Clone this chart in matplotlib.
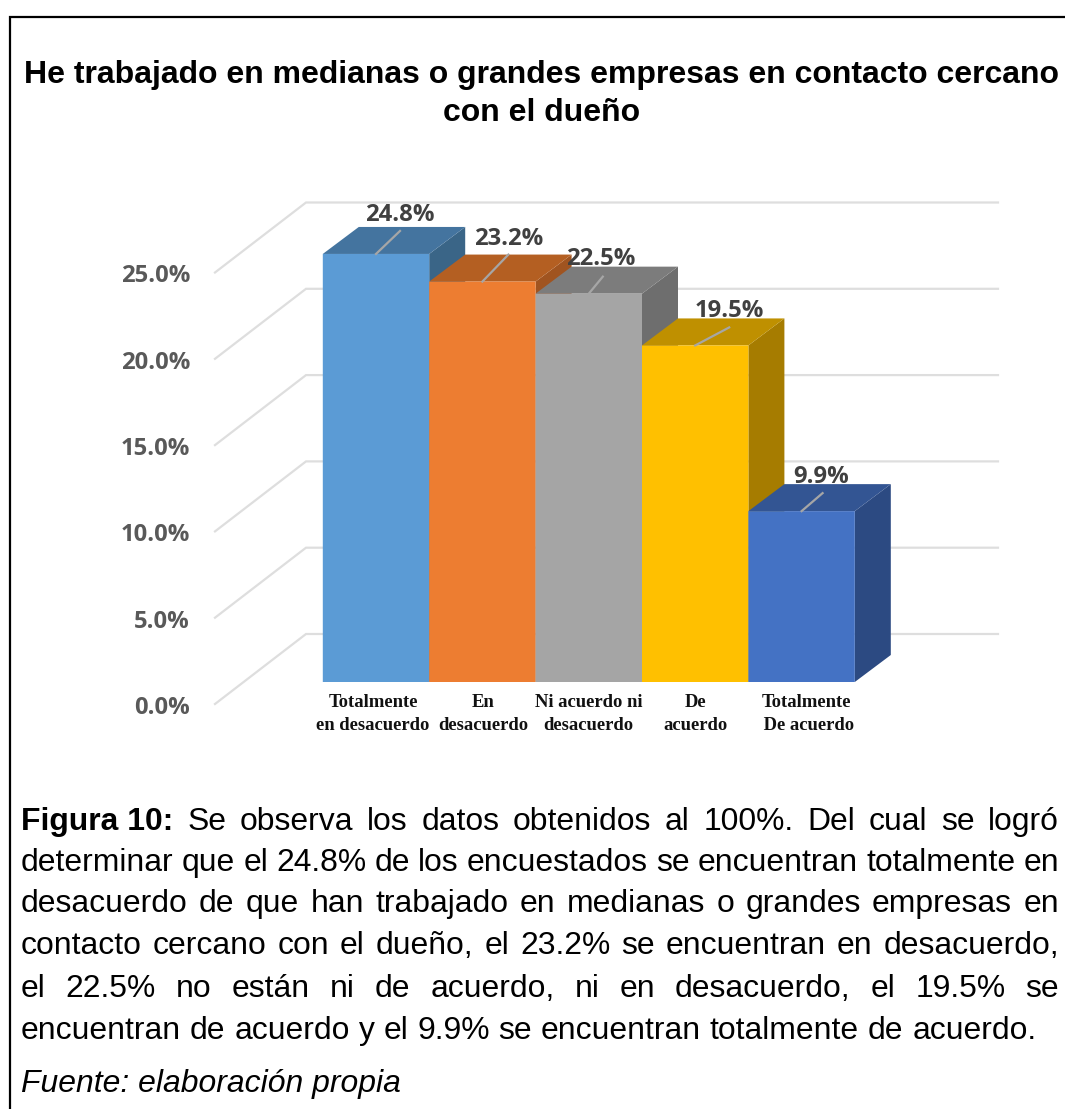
import matplotlib
matplotlib.use("Agg")
import matplotlib.pyplot as plt
from matplotlib.patches import Polygon

# =========================
# DATA
# =========================
categories = ["Totalmente\nen desacuerdo", "En\ndesacuerdo", "Ni acuerdo ni\ndesacuerdo",
              "De\nacuerdo", "Totalmente\n De acuerdo"]
values = [24.8, 23.2, 22.5, 19.5, 9.9]
value_labels = ["24.8%", "23.2%", "22.5%", "19.5%", "9.9%"]
grid_values = [0, 5, 10, 15, 20, 25]
tick_labels = ["0.0%", "5.0%", "10.0%", "15.0%", "20.0%", "25.0%"]

title_lines = ["He trabajado en medianas o grandes empresas en contacto cercano", "con el dueño"]
body_lines = [
    "Se observa los datos obtenidos al 100%. Del cual se logró",
    "determinar que el 24.8% de los encuestados se encuentran totalmente en",
    "desacuerdo de que han trabajado en medianas o grandes empresas en",
    "contacto cercano con el dueño, el 23.2% se encuentran en desacuerdo,",
    "el 22.5% no están ni de acuerdo, ni en desacuerdo, el 19.5% se",
    "encuentran de acuerdo y el 9.9% se encuentran totalmente de acuerdo.",
]

# =========================
# COLOURS / LAYOUT
# =========================
front_colors = ["#5B9BD5", "#ED7D31", "#A5A5A5", "#FFC000", "#4472C4"]
top_colors = ["#44749F", "#B45F22", "#7C7C7C", "#BF9000", "#335593"]
side_colors = ["#3A6587", "#A05420", "#6E6E6E", "#A67C00", "#2C4A82"]

W, H = 1065, 1109
PX_X = 106.4    # one category
PX_Y = 17.26    # one percent
BASE_X, BASE_Y = 376, 682    # first bar centre, value 0

depth_x = 36 / PX_X
depth_y = 27 / PX_Y
wall_x0 = (215 - BASE_X) / PX_X
wall_x1 = (306 - BASE_X) / PX_X
wall_x2 = (998 - BASE_X) / PX_X
wall_y0 = -22 / PX_Y
wall_y1 = 48 / PX_Y

# leader end and label baseline offset from the top of each bar, in pixels
leader_dx = [24, 26, 14, 34, 21]
leader_dy = [23, 27, 17, 18, 18]
label_dx = [24, 26.6, 12, 34, 20]
label_dy = [33, 36.6, 29, 28, 28]
cat_dx = [-3, 1, 0, 0, 5]

fig = plt.figure(figsize=(W / 100, H / 100), dpi=100)
ax = fig.add_axes([0, 0, 1, 1])
ax.set_xlim(-BASE_X / PX_X, (W - BASE_X) / PX_X)
ax.set_ylim((BASE_Y - H) / PX_Y, BASE_Y / PX_Y)
ax.axis("off")

# =========================
# GRID
# =========================
for v in grid_values:
    ax.plot([wall_x0, wall_x1, wall_x2], [v + wall_y0, v + wall_y1, v + wall_y1],
            color="#DEDEDE", lw=1.6, solid_joinstyle="miter", zorder=1)

for v, lab in zip(grid_values, tick_labels):
    ax.text((190 - BASE_X) / PX_X, v + wall_y0 - 10 / PX_Y, lab, ha="right", va="baseline",
            family="Open Sans", fontweight="bold", fontsize=17.2, color="#595959", zorder=5)

# =========================
# BARS
# =========================
for i, v in enumerate(values):
    left, right = i - 0.5, i + 0.5
    ax.add_patch(Polygon([(right, 0), (right + depth_x, depth_y), (right + depth_x, v + depth_y), (right, v)],
                         facecolor=side_colors[i], edgecolor="none", zorder=2 + i * 0.1))
    ax.add_patch(Polygon([(left, v), (left + depth_x, v + depth_y), (right + depth_x, v + depth_y), (right, v)],
                         facecolor=top_colors[i], edgecolor="none", zorder=2 + i * 0.1))
    ax.bar(i, v, width=1, color=front_colors[i], linewidth=0, snap=False, zorder=2.05 + i * 0.1)
    ax.plot([i, i + leader_dx[i] / PX_X], [v, v + leader_dy[i] / PX_Y],
            color="#A6A6A6", lw=1.6, zorder=4)
    ax.text(i + label_dx[i] / PX_X, v + label_dy[i] / PX_Y, value_labels[i], ha="center", va="baseline",
            family="Open Sans", fontweight="bold", fontsize=17.2, color="#404040", zorder=5)

for i, cat in enumerate(categories):
    ax.text(i + cat_dx[i] / PX_X, -32 / PX_Y, cat, ha="center", va="center", family="Liberation Serif",
            fontweight="bold", fontsize=13.4, color="#111111", linespacing=1.45, zorder=5)

# =========================
# BORDER
# =========================
ax.plot([(10 - BASE_X) / PX_X, (10 - BASE_X) / PX_X, (W - BASE_X) / PX_X],
        [(BASE_Y - H) / PX_Y, (BASE_Y - 17) / PX_Y, (BASE_Y - 17) / PX_Y],
        color="black", lw=1.6, solid_joinstyle="miter", zorder=6)

# =========================
# TEXT
# =========================
def put(x, y, s, **kw):
    return fig.text(x / W, 1 - y / H, s, family="Liberation Sans", **kw)


put(542, 83, title_lines[0], ha="center", va="baseline", fontweight="bold", fontsize=23.05, color="black")
put(542, 121, title_lines[1], ha="center", va="baseline", fontweight="bold", fontsize=23.05, color="black")

BODY_SIZE = 22.95
LEFT, RIGHT = 21, 1059
baselines = [830, 871, 912, 954, 997, 1039]
renderer = fig.canvas.get_renderer()


def justified(line, y, first=None, stretch=True):
    words = line.split(" ")
    parts = [(first, "bold")] if first else []
    parts += [(w, "normal") for w in words]
    items = [put(LEFT, y, t, fontsize=BODY_SIZE, fontweight=b, color="black", va="baseline") for t, b in parts]
    widths = [it.get_window_extent(renderer).width for it in items]
    gap = (RIGHT - LEFT - sum(widths)) / (len(items) - 1) if stretch else BODY_SIZE * 100 / 72 * 0.278
    x = LEFT
    for it, w in zip(items, widths):
        it.set_x(x / W)
        x += w + gap


for n, (line, y) in enumerate(zip(body_lines, baselines)):
    justified(line, y, first="Figura 10:" if n == 0 else None, stretch=n < 5)

put(LEFT, 1092, "Fuente: elaboración propia", fontsize=BODY_SIZE, style="italic", color="black", va="baseline")

fig.savefig("out.png", dpi=100)
